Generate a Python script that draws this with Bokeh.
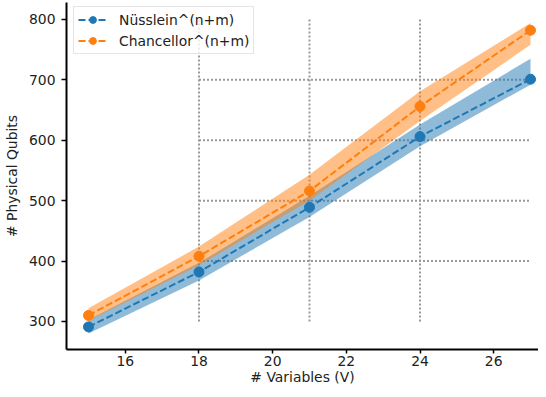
from bokeh.plotting import figure
from bokeh.models import Range1d, FixedTicker, Legend, LegendItem, ColumnDataSource
from bokeh.embed import file_html
from bokeh.resources import INLINE

# ---- data ----
variables = [15, 18, 21, 24, 27]
nusslein = [291, 382, 489, 606, 701]
nusslein_lo = [280, 368, 473, 590, 692]
nusslein_hi = [303, 397, 508, 626, 735]
chancellor = [310, 408, 516, 656, 782]
chancellor_lo = [301, 393, 500, 632, 758]
chancellor_hi = [322, 424, 543, 681, 794]

x_ticks = [16, 18, 20, 22, 24, 26]
y_ticks = [300, 400, 500, 600, 700, 800]

# dotted guide lines
vguide_x = [18, 21, 24]
vguide_y0 = [300, 300, 300]
vguide_y1 = [800, 800, 800]
hguide_y = [400, 500, 600, 700]
hguide_x0 = [18, 18, 18, 18]
hguide_x1 = [27, 27, 27, 27]

BLUE = "#1f77b4"
ORANGE = "#ff7f0e"
FONT = "DejaVu Sans"
FS = "13.9px"

Y_TOP = 828.0
p = figure(width=538, height=389,
           x_range=Range1d(14.403, 27.217), y_range=Range1d(253.6, Y_TOP),
           output_backend="svg", toolbar_location=None,
           min_border_left=66, min_border_right=0, min_border_top=2, min_border_bottom=40)
p.grid.visible = False
p.outline_line_color = None
p.background_fill_color = "white"
p.border_fill_color = "white"

# axes styling
for ax in (p.xaxis[0], p.yaxis[0]):
    ax.axis_line_width = 2
    ax.axis_line_color = "black"
    ax.major_tick_line_width = 1.5
    ax.major_tick_line_color = "black"
    ax.major_tick_out = 5
    ax.major_tick_in = 0
    ax.minor_tick_line_color = None
    ax.major_label_text_font = FONT
    ax.major_label_text_font_size = FS
    ax.major_label_text_color = "#222222"
    ax.axis_label_text_font = FONT
    ax.axis_label_text_font_size = FS
    ax.axis_label_text_font_style = "normal"
    ax.axis_label_text_color = "#222222"

p.xaxis.ticker = FixedTicker(ticks=x_ticks)
p.yaxis.ticker = FixedTicker(ticks=y_ticks)
p.xaxis.axis_label = "# Variables (V)"
p.yaxis.axis_label = "# Physical Qubits"
p.xaxis.major_tick_out = 4
p.xaxis.major_label_standoff = 2
p.xaxis.axis_label_standoff = 0
p.yaxis.major_label_standoff = 6
p.yaxis.axis_label_standoff = 6

# guide lines
p.segment(x0=vguide_x, y0=vguide_y0, x1=vguide_x, y1=vguide_y1,
          line_color="#999999", line_width=2, line_dash="2 2")
p.segment(x0=hguide_x0, y0=hguide_y, x1=hguide_x1, y1=hguide_y,
          line_color="#999999", line_width=2, line_dash="2 2")

src = ColumnDataSource(dict(x=variables, n=nusslein, nlo=nusslein_lo, nhi=nusslein_hi,
                            c=chancellor, clo=chancellor_lo, chi=chancellor_hi))

p.varea(x="x", y1="nlo", y2="nhi", source=src, fill_color=BLUE, fill_alpha=0.5)
nl = p.line(x="x", y="n", source=src, line_color=BLUE, line_width=2, line_dash="7 3")
ns = p.scatter(x="x", y="n", source=src, size=10, fill_color=BLUE, line_color=BLUE)

p.varea(x="x", y1="clo", y2="chi", source=src, fill_color=ORANGE, fill_alpha=0.5)
cl = p.line(x="x", y="c", source=src, line_color=ORANGE, line_width=2, line_dash="7 3")
cs = p.scatter(x="x", y="c", source=src, size=10, fill_color=ORANGE, line_color=ORANGE)

legend = Legend(items=[LegendItem(label="Nüsslein^(n+m)", renderers=[nl, ns]),
                       LegendItem(label="Chancellor^(n+m)", renderers=[cl, cs])],
                location="top_left", margin=0, padding=4, spacing=4,
                label_height=17, glyph_height=17, glyph_width=29, label_standoff=12,
                label_text_font=FONT, label_text_font_size=FS, label_text_color="#222222",
                border_line_color="#cccccc", border_line_width=1,
                background_fill_color="white", background_fill_alpha=0.8)
legend.location = (7, 389 - 40 - 9 - 45)
p.add_layout(legend)

open("out.html", "w").write(file_html(p, INLINE))
